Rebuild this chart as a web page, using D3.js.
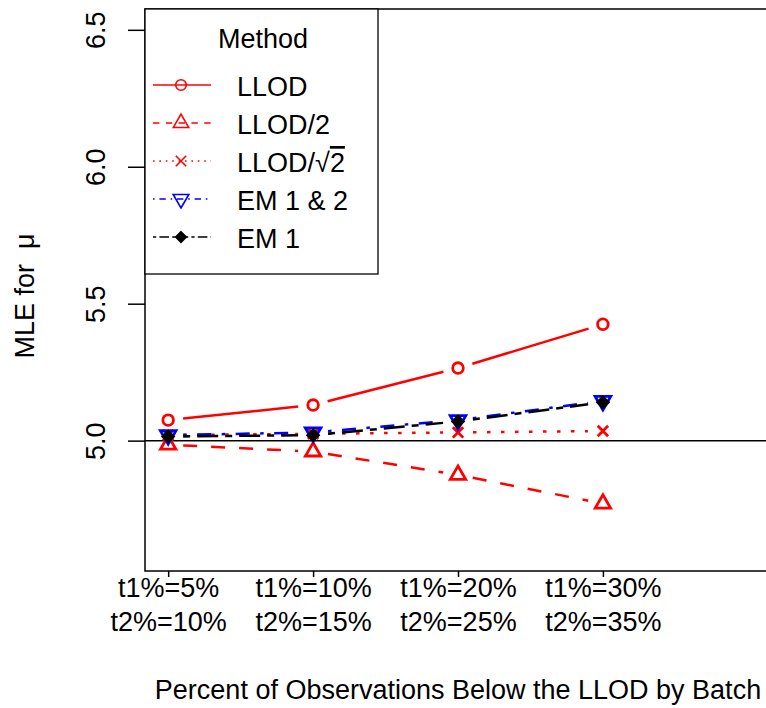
<!DOCTYPE html>
<html>
<head>
<meta charset="utf-8">
<script src="https://cdn.jsdelivr.net/npm/d3@7"></script>
<style>
  body { margin: 0; background: #fff; }
  text { font-family: "Liberation Sans", Arial, sans-serif; fill: #000; }
</style>
</head>
<body>
<script>
var width = 766,
    height = 708;

// data
var xPositions = [1, 2, 3, 4];
var tickLine1 = ["t1%=5%", "t1%=10%", "t1%=20%", "t1%=30%"];
var tickLine2 = ["t2%=10%", "t2%=15%", "t2%=25%", "t2%=35%"];
var yTicks = [5.0, 5.5, 6.0, 6.5];

var llod      = [5.075, 5.13, 5.265, 5.425];
var llodHalf  = [4.985, 4.96, 4.875, 4.77];
var llodSqrt2 = [5.02, 5.025, 5.03, 5.035];
var em12      = [5.02, 5.03, 5.075, 5.145];
var em1       = [5.015, 5.02, 5.07, 5.14];

var methodNames = ["LLOD", "LLOD/2", "LLOD/\u221A2", "EM 1 & 2", "EM 1"];

var series = [
  {name: methodNames[0], values: llod,      color: "#ff0000", dash: [],           shape: "circle"},
  {name: methodNames[1], values: llodHalf,  color: "#ff0000", dash: [4, 4],       shape: "triUp"},
  {name: methodNames[2], values: llodSqrt2, color: "#ff0000", dash: [1, 3],       shape: "cross"},
  {name: methodNames[3], values: em12,      color: "#0000ff", dash: [1, 3, 4, 3], shape: "triDown"},
  {name: methodNames[4], values: em1,       color: "#000000", dash: [2, 2, 6, 2], shape: "diamond"}
];

var margin = {left: 145, top: 9, bottom: 571, right: 771};

var x = d3.scaleLinear().domain([0.84, 5.16]).range([margin.left, margin.right]);
var y = d3.scaleLinear().domain([4.524, 6.576]).range([margin.bottom, margin.top]);

var svg = d3.select("body").append("svg")
    .attr("width", width)
    .attr("height", height);

// marker shapes in R style
function shapePath(shape, s) {
  var p = d3.path();
  if (shape == "circle") {
    p.arc(0, 0, s, 0, 2 * Math.PI);
  } else if (shape == "triUp") {
    p.moveTo(0, -1.555 * s); p.lineTo(1.347 * s, 0.778 * s); p.lineTo(-1.347 * s, 0.778 * s); p.closePath();
  } else if (shape == "triDown") {
    p.moveTo(0, 1.555 * s); p.lineTo(1.347 * s, -0.778 * s); p.lineTo(-1.347 * s, -0.778 * s); p.closePath();
  } else if (shape == "cross") {
    p.moveTo(-s, -s); p.lineTo(s, s); p.moveTo(-s, s); p.lineTo(s, -s);
  } else if (shape == "diamond") {
    p.moveTo(0, -s); p.lineTo(s, 0); p.lineTo(0, s); p.lineTo(-s, 0); p.closePath();
  }
  return p.toString();
}
var shapeSize = {circle: 5.3, triUp: 5.7, triDown: 5.8, cross: 5.2, diamond: 5.3};

function drawMarker(g, d, cx, cy, sw) {
  g.append("path")
    .attr("d", shapePath(d.shape, shapeSize[d.shape]))
    .attr("transform", "translate(" + cx + "," + cy + ")")
    .attr("fill", d.shape == "diamond" ? d.color : "none")
    .attr("stroke", d.color)
    .attr("stroke-width", sw);
}

var plot = svg.append("g");

// reference line at 5
plot.append("line")
    .attr("x1", margin.left).attr("x2", margin.right)
    .attr("y1", y(5)).attr("y2", y(5))
    .attr("stroke", "#000").attr("stroke-width", 1.5);

// type = "b": segments with a gap round each point
var gap = 15, lwdScale = 3.5;
series.forEach(function(d) {
  var g = plot.append("g");
  var pts = d.values.map(function(v, i) { return [x(xPositions[i]), y(v)]; });
  for (var i = 0; i < pts.length - 1; i++) {
    var dx = pts[i + 1][0] - pts[i][0], dy = pts[i + 1][1] - pts[i][1];
    var len = Math.sqrt(dx * dx + dy * dy);
    var ux = dx / len, uy = dy / len;
    g.append("line")
      .attr("x1", pts[i][0] + ux * gap).attr("y1", pts[i][1] + uy * gap)
      .attr("x2", pts[i + 1][0] - ux * gap).attr("y2", pts[i + 1][1] - uy * gap)
      .attr("stroke", d.color)
      .attr("stroke-width", 2.5)
      .attr("stroke-dasharray", d.dash.map(function(k) { return k * lwdScale; }).join(","));
  }
  pts.forEach(function(p) { drawMarker(g, d, p[0], p[1], 2.8); });
});

// axes
var yAxis = svg.append("g")
    .attr("transform", "translate(" + margin.left + ",0)")
    .call(d3.axisLeft(y).tickValues(yTicks).tickFormat(d3.format(".1f")).tickSize(17).tickPadding(0));
yAxis.select(".domain").remove();
yAxis.selectAll(".tick line").attr("stroke", "#000").attr("stroke-width", 1.5);
yAxis.selectAll(".tick text")
    .attr("x", null).attr("dy", null)
    .attr("transform", "translate(-40,0) rotate(-90)")
    .attr("text-anchor", "middle")
    .style("font-size", "27px")
    .style("font-family", "Liberation Sans, Arial, sans-serif");

var xAxis = svg.append("g")
    .attr("transform", "translate(0," + margin.bottom + ")")
    .call(d3.axisBottom(x).tickValues(xPositions).tickFormat("").tickSize(6));
xAxis.select(".domain").remove();
xAxis.selectAll(".tick line").attr("stroke", "#000").attr("stroke-width", 1.5);
xAxis.selectAll(".tick").each(function(d, i) {
  var t = d3.select(this);
  t.append("text").attr("y", 26).attr("text-anchor", "middle")
    .style("font-size", "27px").style("font-family", "Liberation Sans, Arial, sans-serif").attr("fill", "#000")
    .text(tickLine1[i]);
  t.append("text").attr("y", 60).attr("text-anchor", "middle")
    .style("font-size", "27px").style("font-family", "Liberation Sans, Arial, sans-serif").attr("fill", "#000")
    .text(tickLine2[i]);
});

// plot box
svg.append("rect")
    .attr("x", margin.left).attr("y", margin.top)
    .attr("width", margin.right - margin.left).attr("height", margin.bottom - margin.top)
    .attr("fill", "none").attr("stroke", "#000").attr("stroke-width", 1.5);

// axis titles
svg.append("text")
    .attr("x", (margin.left + margin.right) / 2).attr("y", 699)
    .attr("text-anchor", "middle")
    .style("font-size", "27px")
    .text("Percent of Observations Below the LLOD by Batch");

svg.append("text")
    .attr("transform", "translate(34," + ((margin.top + margin.bottom) / 2 + 6) + ") rotate(-90)")
    .attr("text-anchor", "middle")
    .style("font-size", "27px")
    .text("MLE for \u00A0\u03BC");

// legend
var leg = svg.append("g");
leg.append("rect")
    .attr("x", margin.left).attr("y", margin.top)
    .attr("width", 233).attr("height", 265)
    .attr("fill", "#fff").attr("stroke", "#000").attr("stroke-width", 1.3);
leg.append("text")
    .attr("x", 263).attr("y", 48)
    .attr("text-anchor", "middle")
    .style("font-size", "27px")
    .text("Method");

var legY = d3.scaleLinear().domain([0, 4]).range([85, 237]);
series.forEach(function(d, i) {
  var yy = legY(i);
  leg.append("line")
    .attr("x1", 153).attr("x2", 211).attr("y1", yy).attr("y2", yy)
    .attr("stroke", d.color).attr("stroke-width", 1.3)
    .attr("stroke-dasharray", d.dash.map(function(k) { return k * 1.6; }).join(","));
  drawMarker(leg, d, 181, yy, 1.6);
  var t = leg.append("text")
    .attr("x", 237).attr("y", yy + 11)
    .style("font-size", "27px");
  if (i == 2) {
    t.text("LLOD/");
    t.append("tspan").text("\u221A");
    t.append("tspan").attr("text-decoration", "overline").text("2");
  } else {
    t.text(d.name);
  }
});
</script>
</body>
</html>
